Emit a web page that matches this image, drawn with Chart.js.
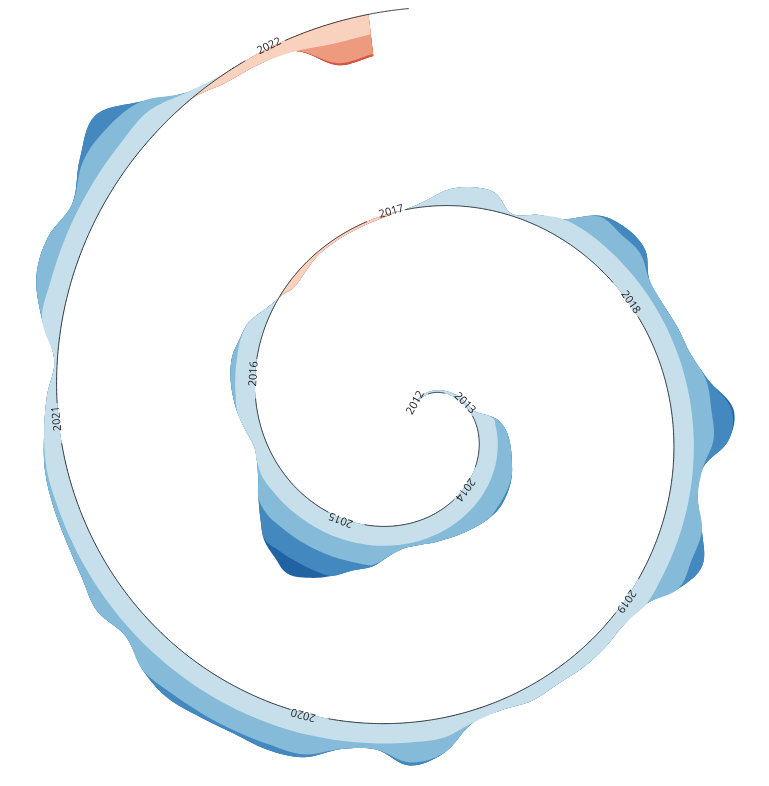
<!DOCTYPE html>
<html>
<head>
<meta charset="utf-8">
<script src="https://cdn.jsdelivr.net/npm/chart.js@4.4.1/dist/chart.umd.min.js"></script>
<style>
  html, body { margin: 0; padding: 0; background: #ffffff; }
  #wrap { width: 769px; height: 786px; }
</style>
</head>
<body>
<div id="wrap"><canvas id="c" width="769" height="786"></canvas></div>
<script>
// ---------------- data ----------------
const years = [2012, 2013, 2014, 2015, 2016, 2017, 2018, 2019, 2020, 2021, 2022];

// time axis: monthly, Jan 2012 – Apr 2022
const months = [];
for (let y = 2012; y <= 2022; y++) {
  for (let m = 1; m <= 12; m++) {
    if (y === 2022 && m > 4) break;
    months.push(y + '-' + String(m).padStart(2, '0'));
  }
}

// monthly values (Jan 2012 – Mar 2022); negative = blue (drawn outward), positive = red (drawn inward)
const values = [
  -0.15, -0.15, -0.15, -0.15, -0.15, -0.15, -0.15, -0.15, -0.15, -0.15, -0.15, -0.15,   // 2012
  -0.15, -0.25, -1.10, -1.45, -1.60, -1.70, -1.80, -1.95, -2.05, -2.10, -2.10, -2.00,   // 2013
  -1.85, -1.70, -1.55, -1.40, -1.30, -1.20, -1.20, -1.50, -2.10, -2.40, -2.95, -3.45,   // 2014
  -3.75, -3.40, -3.05, -2.40, -1.80, -1.25, -0.85, -0.65, -0.80, -1.00, -1.15, -1.25,   // 2015
  -1.25, -1.05, -0.85, -0.35,  0.00,  0.35,  0.30,  0.15,  0.12,  0.12,  0.12,  0.10,   // 2016
   0.00, -0.28, -0.80, -1.00, -0.90, -0.10, -0.50, -0.90, -2.05, -2.40, -2.30, -1.50,   // 2017
  -1.40, -1.50, -1.60, -2.10, -3.10, -2.75, -1.50, -1.42, -2.00, -2.60, -2.00, -1.00,   // 2018
  -0.70, -0.75, -0.75, -0.65, -0.70, -0.48, -0.60, -1.75, -2.15, -1.30, -1.40, -2.15,   // 2019
  -2.28, -2.15, -2.20, -2.30, -2.00, -1.40, -1.70, -1.40, -1.25, -1.20, -1.10, -0.80,   // 2020
  -0.50, -0.15, -1.00, -1.75, -1.82, -1.40, -2.20, -2.85, -1.60, -0.40,  0.40,  0.50,   // 2021
   0.70,  2.10,  2.10                                                                     // 2022
];

const blues = ['#c6dfeb', '#85bbd8', '#4389bf', '#2162a2'];
const reds  = ['#f9d2bf', '#ee9a7e', '#d35542', '#b2182b'];

// ---------------- spiral geometry ----------------
const PHI0 = 9;            // degrees (clockwise from top) at 1 Jan 2012
const DEG_PER_YEAR = 69;   // angular speed
const R0 = 7;              // radius at angle 0
const PITCH = 200;         // radial growth per turn (px)
const STEP = 20;           // radial size of one colour band per unit
const LABEL_SHIFT = -0.008; // years: label anchor just before 1 January
const LABEL_OFFSET = 1.5;   // px outward from the spiral

function monthTime(label) {
  const [y, m] = label.split('-').map(Number);
  return y + (m - 0.5) / 12;
}
function phiOf(t) { return PHI0 + DEG_PER_YEAR * (t - 2012); }
function radiusOf(phi) { return R0 + PITCH * phi / 360; }
function spiralPoint(t, offset) {
  const phi = phiOf(t);
  const r = radiusOf(phi) + offset;
  const a = phi * Math.PI / 180;
  return { x: r * Math.sin(a), y: r * Math.cos(a) };
}

const FONT = '11px "Open Sans", "Noto Sans", sans-serif';
const measureCtx = document.createElement('canvas').getContext('2d');
measureCtx.font = FONT;

// gaps in the spiral line where year labels sit
const gaps = years.map(y => {
  const phi = phiOf(y + LABEL_SHIFT);
  const L = Math.hypot(radiusOf(phi), PITCH / (2 * Math.PI));
  const w = measureCtx.measureText(String(y)).width;
  return [phi - (w / 2 + 12) / L * 180 / Math.PI, phi + (w / 2 + 1) / L * 180 / Math.PI];
});

// spiral axis line
const tStart = monthTime(months[0]);
const tEnd = monthTime(months[months.length - 1]);
const axisPts = [];
for (let i = 0; i <= 1200; i++) {
  const t = tStart + (tEnd - tStart) * i / 1200;
  const phi = phiOf(t);
  if (gaps.some(g => phi > g[0] && phi < g[1])) axisPts.push({ x: null, y: null });
  else axisPts.push(spiralPoint(t, 0));
}

// one colour band layer: area between the spiral and spiral + min(|v|, k) bands
function layerPoints(k, dir) {
  const times = values.map((v, i) => monthTime(months[i]));
  const outer = values.map((v, i) => {
    const mag = Math.max(dir > 0 ? -v : v, 0);
    return spiralPoint(times[i], dir * Math.min(mag, k) * STEP);
  });
  const inner = times.map(t => spiralPoint(t, 0));
  // outer edge from the last month back to the first, then the spiral forward;
  // the path closes with a straight radial edge at the last month
  return outer.reverse().concat(inner);
}

const datasets = [{
  data: axisPts,
  showLine: true,
  borderColor: '#1a1a1a',
  borderWidth: 0.85,
  pointRadius: 0,
  fill: false,
  tension: 0.001
}];
for (let k = 1; k <= 4; k++) {
  datasets.push({
    data: layerPoints(k, 1), showLine: true, borderWidth: 0, pointRadius: 0,
    backgroundColor: blues[k - 1], borderColor: 'rgba(0,0,0,0)', fill: 'shape', tension: 0.35
  });
  datasets.push({
    data: layerPoints(k, -1), showLine: true, borderWidth: 0, pointRadius: 0,
    backgroundColor: reds[k - 1], borderColor: 'rgba(0,0,0,0)', fill: 'shape', tension: 0.35
  });
}

const yearLabels = {
  id: 'yearLabels',
  afterDatasetsDraw(chart) {
    const { ctx, scales } = chart;
    const xs = scales.x, ys = scales.y;
    ctx.save();
    ctx.font = FONT;
    ctx.fillStyle = '#222222';
    ctx.textAlign = 'center';
    ctx.textBaseline = 'middle';
    years.forEach(y => {
      const t = y + LABEL_SHIFT;
      const p = spiralPoint(t, 0), q = spiralPoint(t + 0.002, 0);
      const px = xs.getPixelForValue(p.x), py = ys.getPixelForValue(p.y);
      const qx = xs.getPixelForValue(q.x), qy = ys.getPixelForValue(q.y);
      const ang = Math.atan2(qy - py, qx - px);
      ctx.save();
      ctx.translate(px, py);
      ctx.rotate(ang);
      ctx.fillText(String(y), 0, -LABEL_OFFSET);
      ctx.restore();
    });
    ctx.restore();
  }
};

new Chart(document.getElementById('c'), {
  type: 'scatter',
  data: { datasets },
  options: {
    responsive: false,
    animation: false,
    layout: { padding: 0 },
    plugins: { legend: { display: false }, tooltip: { enabled: false } },
    scales: {
      x: { type: 'linear', min: -415, max: 354, display: false },
      y: { type: 'linear', min: -371, max: 415, display: false }
    },
    elements: { point: { radius: 0 } }
  },
  plugins: [yearLabels]
});
</script>
</body>
</html>
